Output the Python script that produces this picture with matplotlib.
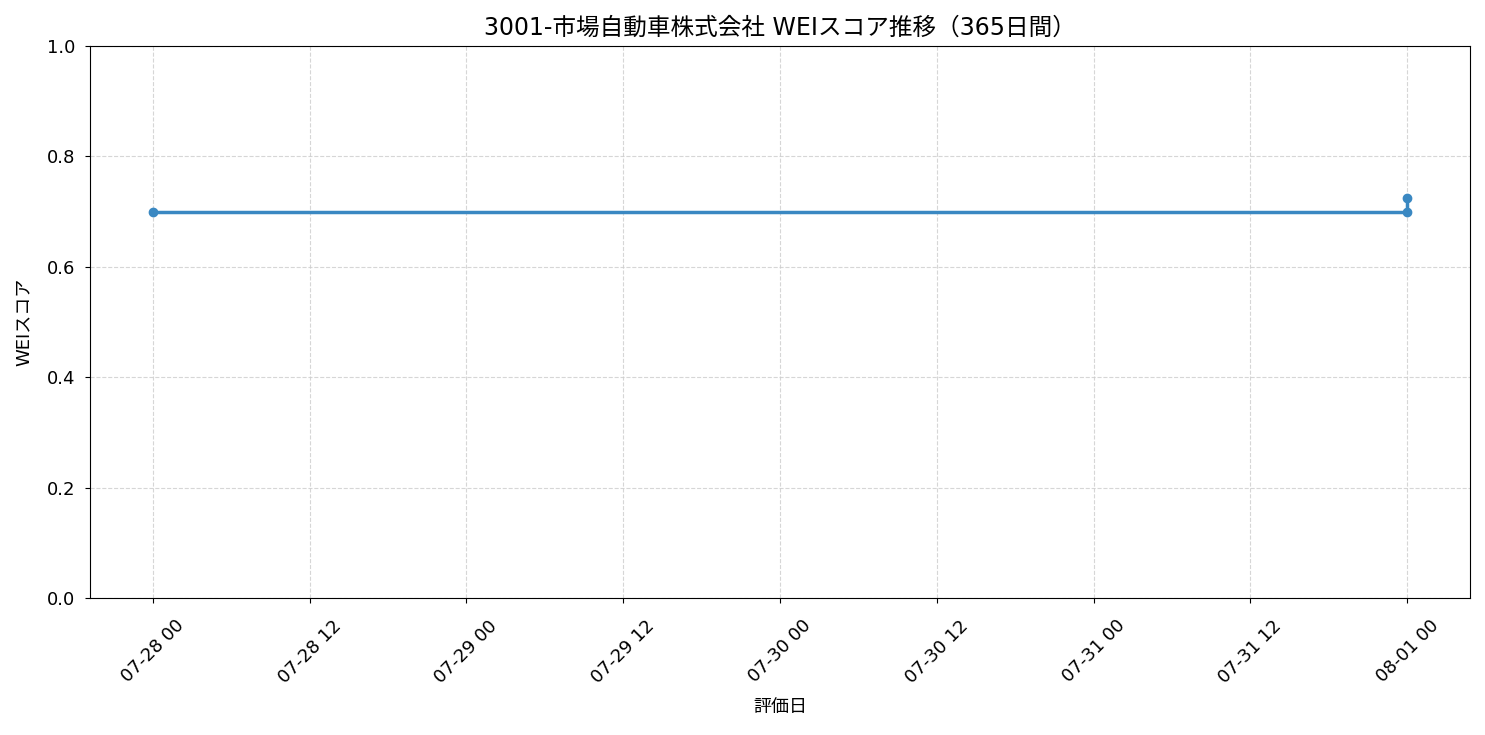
import matplotlib
matplotlib.use("Agg")
import matplotlib.pyplot as plt
import matplotlib.dates as mdates
import pandas as pd

plt.rcParams['font.family'] = ['DejaVu Sans', 'Noto Sans CJK JP']

dates = pd.to_datetime(["2025-07-28 00:00", "2025-08-01 00:00", "2025-08-01 00:00"])
scores = [0.70, 0.70, 0.725]

title = "3001-市場自動車株式会社 WEIスコア推移（365日間）"

fig = plt.figure(figsize=(14.85, 7.35), dpi=100)
ax = fig.add_axes([0.0606, 0.1864, 0.9293, 0.751])
ax.plot(dates, scores, marker='o', color='#3a88c2', linewidth=2.5, markersize=6)
ax.set_ylim(0, 1.0)
ax.set_title(title, fontsize=17, pad=8)
ax.set_xlabel("評価日", fontsize=13, labelpad=8)
ax.set_ylabel("WEIスコア", fontsize=13, labelpad=10)
ax.grid(True, linestyle='--', color='#cccccc', alpha=0.8)
ax.xaxis.set_major_locator(mdates.HourLocator(byhour=[0, 12]))
ax.xaxis.set_major_formatter(mdates.DateFormatter('%m-%d %H'))
ax.tick_params(labelsize=13)
ax.tick_params(axis='x', pad=10)
ax.tick_params(axis='y', pad=7)
plt.setp(ax.get_xticklabels(), rotation=45)
fig.savefig("out.png", dpi=100)
